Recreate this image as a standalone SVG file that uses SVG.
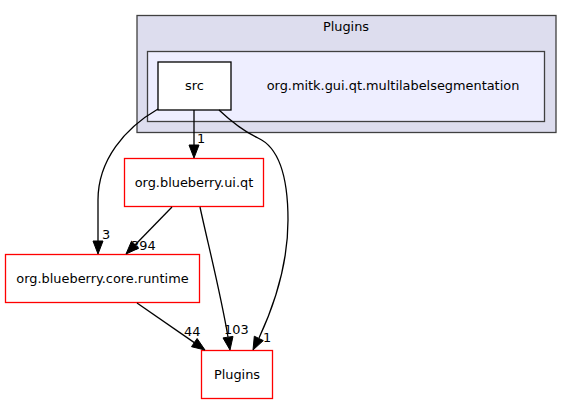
<svg xmlns="http://www.w3.org/2000/svg" width="572" height="404" viewBox="0 0 572 404">
<style>
text{font-family:"DejaVu Sans",sans-serif;font-size:12.9px;fill:#000}
.c{text-anchor:middle}
.node{fill:#fff;stroke:#ff0000;stroke-width:1.3}
.e{fill:none;stroke:#000;stroke-width:1.3}
.ah{fill:#000;stroke:#000;stroke-width:1}
</style>
<rect width="572" height="404" fill="#fff"/>
<g id="cluster-plugins">
<rect x="137" y="15.5" width="419" height="117" fill="#ddddee" stroke="#404040" stroke-width="1.3"/>
<text class="c" x="346" y="31">Plugins</text>
</g>
<g id="cluster-multilabel">
<rect x="147.5" y="51.5" width="397" height="70" fill="#eeeeff" stroke="#404040" stroke-width="1.3"/>
<text class="c" x="393" y="90">org.mitk.gui.qt.multilabelsegmentation</text>
</g>
<g id="node-src">
<rect x="158" y="62" width="73" height="48" fill="#fff" stroke="#000" stroke-width="1.3"/>
<text class="c" x="194.5" y="90">src</text>
</g>
<g id="node-uiqt">
<rect class="node" x="124.5" y="158.5" width="139" height="48"/>
<text class="c" x="194" y="187">org.blueberry.ui.qt</text>
</g>
<g id="node-coreruntime">
<rect class="node" x="5.5" y="254.5" width="194" height="48"/>
<text class="c" x="102.5" y="283">org.blueberry.core.runtime</text>
</g>
<g id="node-plugins">
<rect class="node" x="201.5" y="350.5" width="71" height="48"/>
<text class="c" x="237" y="379">Plugins</text>
</g>
<g id="connectors">
<path class="e" d="M194,110 L194,145"/>
<polygon class="ah" points="189,145 194,158 199,145"/>
<text x="197" y="143">1</text>

<path class="e" d="M158,109 C125,128 98,160 98,200 L98,241"/>
<polygon class="ah" points="93,241 98,254 103,241"/>
<text x="102" y="239">3</text>

<path class="e" d="M172,207 L135,245"/>
<polygon class="ah" points="138.7,248.2 126,254 131.5,241.2"/>
<text x="131" y="250">394</text>

<path class="e" d="M200,207 C207,240 220,290 228,337"/>
<polygon class="ah" points="223,337.9 230,350 233,336.4"/>
<text x="224" y="334">103</text>

<path class="e" d="M219,110 C235,125 245,132 258,138 C280,148 288,180 288,220 C288,268 273,308 259,338"/>
<polygon class="ah" points="254.3,336.2 253,350 263.3,340.6"/>
<text x="263" y="342">1</text>

<path class="e" d="M137,303 L194.3,342.6"/>
<polygon class="ah" points="191.5,346.7 205,350 197.1,338.5"/>
<text x="184" y="336">44</text>
</g>
</svg>
